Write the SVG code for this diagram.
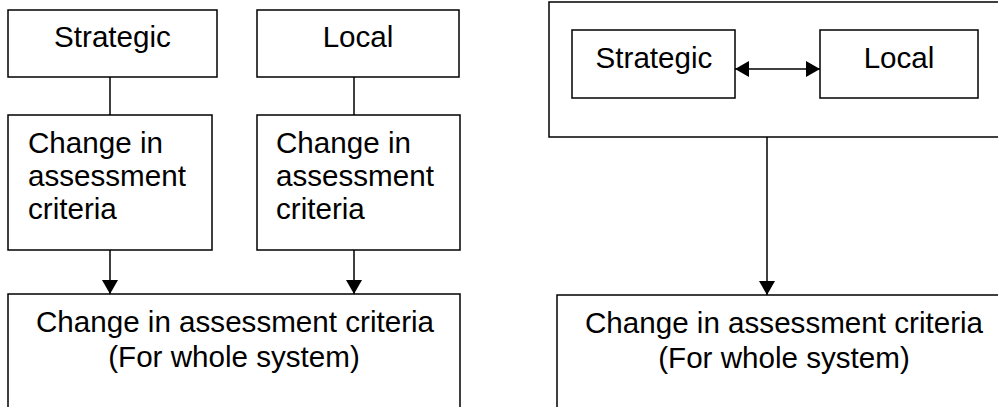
<svg xmlns="http://www.w3.org/2000/svg" width="998" height="407" viewBox="0 0 998 407">
<defs>
<style>
.box{fill:#fff;stroke:#000;stroke-width:1.5}
.t{font-family:"Liberation Sans",Arial,sans-serif;font-size:29.6px;fill:#000}
.c{text-anchor:middle}
.ln{stroke:#000;stroke-width:1.5;fill:none}
</style>
<marker id="ah" viewBox="0 0 14 16" refX="14" refY="8" markerWidth="14" markerHeight="16" markerUnits="userSpaceOnUse" orient="auto-start-reverse">
<path d="M0,0 L14,8 L0,16 Z" fill="#000"/>
</marker>
</defs>
<g id="left-strategic">
<rect class="box" x="8" y="10" width="209" height="67"/>
<text class="t c" x="112.5" y="47">Strategic</text>
</g>
<g id="left-local">
<rect class="box" x="257" y="10" width="202" height="67"/>
<text class="t c" x="358" y="47">Local</text>
</g>
<g id="left-change-strategic">
<rect class="box" x="8" y="115" width="204" height="135"/>
<text class="t" x="28" y="153">Change in</text>
<text class="t" x="28" y="186">assessment</text>
<text class="t" x="28" y="219">criteria</text>
</g>
<g id="left-change-local">
<rect class="box" x="257" y="115" width="203" height="135"/>
<text class="t" x="276" y="153">Change in</text>
<text class="t" x="276" y="186">assessment</text>
<text class="t" x="276" y="219">criteria</text>
</g>
<g id="left-whole">
<rect class="box" x="8" y="294" width="452" height="130"/>
<text class="t c" x="235" y="332">Change in assessment criteria</text>
<text class="t c" x="234" y="367">(For whole system)</text>
</g>
<g id="right-outer">
<rect class="box" x="549" y="2" width="460" height="135"/>
</g>
<g id="right-strategic">
<rect class="box" x="572" y="30" width="163" height="68"/>
<text class="t c" x="654" y="68">Strategic</text>
</g>
<g id="right-local">
<rect class="box" x="820" y="30" width="158" height="68"/>
<text class="t c" x="899" y="68">Local</text>
</g>
<g id="right-whole">
<rect class="box" x="557" y="295" width="460" height="130"/>
<text class="t c" x="784" y="333">Change in assessment criteria</text>
<text class="t c" x="784" y="368">(For whole system)</text>
</g>
<g id="connectors">
<line class="ln" x1="110" y1="77" x2="110" y2="115"/>
<line class="ln" x1="354" y1="77" x2="354" y2="115"/>
<line class="ln" x1="110" y1="250" x2="110" y2="294" marker-end="url(#ah)"/>
<line class="ln" x1="354" y1="250" x2="354" y2="294" marker-end="url(#ah)"/>
<line class="ln" x1="735" y1="69" x2="820" y2="69" marker-start="url(#ah)" marker-end="url(#ah)"/>
<line class="ln" x1="767" y1="137" x2="767" y2="295" marker-end="url(#ah)"/>
</g>
</svg>
